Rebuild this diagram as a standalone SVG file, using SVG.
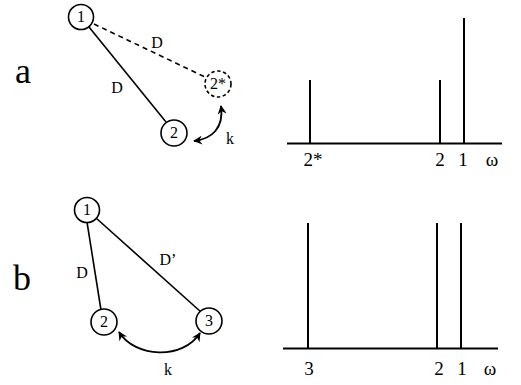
<svg xmlns="http://www.w3.org/2000/svg" width="521" height="385" viewBox="0 0 521 385">
<style>
text{font-family:'Liberation Serif','Times New Roman','DejaVu Serif',serif;fill:#000;text-anchor:middle}
.node{fill:#fff;stroke:#000;stroke-width:1.6}
.dnode{fill:#fff;stroke:#000;stroke-width:1.6;stroke-dasharray:3.5,2.5}
.nt{font-size:16px}
.lbl{font-size:16px}
.big{font-size:36px}
.sp{font-size:19px}
.edge{stroke:#000;stroke-width:1.6;fill:none}
.arc{stroke:#000;stroke-width:1.8;fill:none;marker-start:url(#ah);marker-end:url(#ah)}
.peak{stroke:#000;stroke-width:2}
</style>
<defs>
<marker id="ah" viewBox="0 0 10 10" refX="9" refY="5" markerWidth="9" markerHeight="9" markerUnits="userSpaceOnUse" orient="auto-start-reverse">
<path d="M0,0 L10,5 L0,10 L3,5 Z" fill="#000"/>
</marker>
</defs>
<text class="big" x="23" y="83">a</text>
<text class="big" x="22" y="290">b</text>
<g id="connectors">
<line class="edge" x1="89" y1="27" x2="166" y2="122"/>
<line class="edge" x1="94" y1="24" x2="205" y2="77" stroke-dasharray="5,4"/>
<path class="arc" d="M194,141 C212,139 224,128 221,106"/>
<line class="edge" x1="87" y1="222" x2="101" y2="310"/>
<line class="edge" x1="96" y1="218" x2="201" y2="312"/>
<path class="arc" d="M119,332 C135,358 183,360 200,333"/>
</g>
<text class="lbl" x="157" y="48">D</text>
<text class="lbl" x="117" y="93">D</text>
<text class="lbl" x="230" y="144">k</text>
<text class="lbl" x="82" y="278">D</text>
<text class="lbl" x="168" y="265">D’</text>
<text class="lbl" x="168" y="375">k</text>
<g id="node-a1"><circle class="node" cx="81" cy="17" r="12.5"/><text class="nt" x="81" y="22">1</text></g>
<g id="node-a2star"><circle class="dnode" cx="218" cy="84" r="13"/><text class="nt" x="218" y="89">2*</text></g>
<g id="node-a2"><circle class="node" cx="174" cy="133" r="13"/><text class="nt" x="174" y="138">2</text></g>
<g id="node-b1"><circle class="node" cx="87" cy="210" r="12.5"/><text class="nt" x="87" y="215">1</text></g>
<g id="node-b2"><circle class="node" cx="104" cy="322" r="13"/><text class="nt" x="104" y="327">2</text></g>
<g id="node-b3"><circle class="node" cx="209" cy="321" r="13"/><text class="nt" x="209" y="326">3</text></g>
<g id="spectrum-a">
<line stroke="#000" stroke-width="2" x1="287" y1="143.5" x2="502" y2="143.5"/>
<line class="peak" x1="310" y1="80" x2="310" y2="143"/>
<line class="peak" x1="440" y1="80" x2="440" y2="143"/>
<line class="peak" stroke-width="3" x1="464" y1="18" x2="464" y2="143"/>
<text class="sp" x="313" y="166">2*</text>
<text class="sp" x="440" y="166">2</text>
<text class="sp" x="463" y="166">1</text>
<text class="sp" x="492" y="166">ω</text>
</g>
<g id="spectrum-b">
<line stroke="#000" stroke-width="2" x1="283" y1="348.5" x2="498" y2="348.5"/>
<line class="peak" stroke-width="2.5" x1="308" y1="223" x2="308" y2="348"/>
<line class="peak" stroke-width="2.5" x1="437" y1="223" x2="437" y2="348"/>
<line class="peak" stroke-width="3" x1="461" y1="223" x2="461" y2="348"/>
<text class="sp" x="309" y="375">3</text>
<text class="sp" x="439" y="375">2</text>
<text class="sp" x="462" y="375">1</text>
<text class="sp" x="490" y="375">ω</text>
</g>
</svg>
